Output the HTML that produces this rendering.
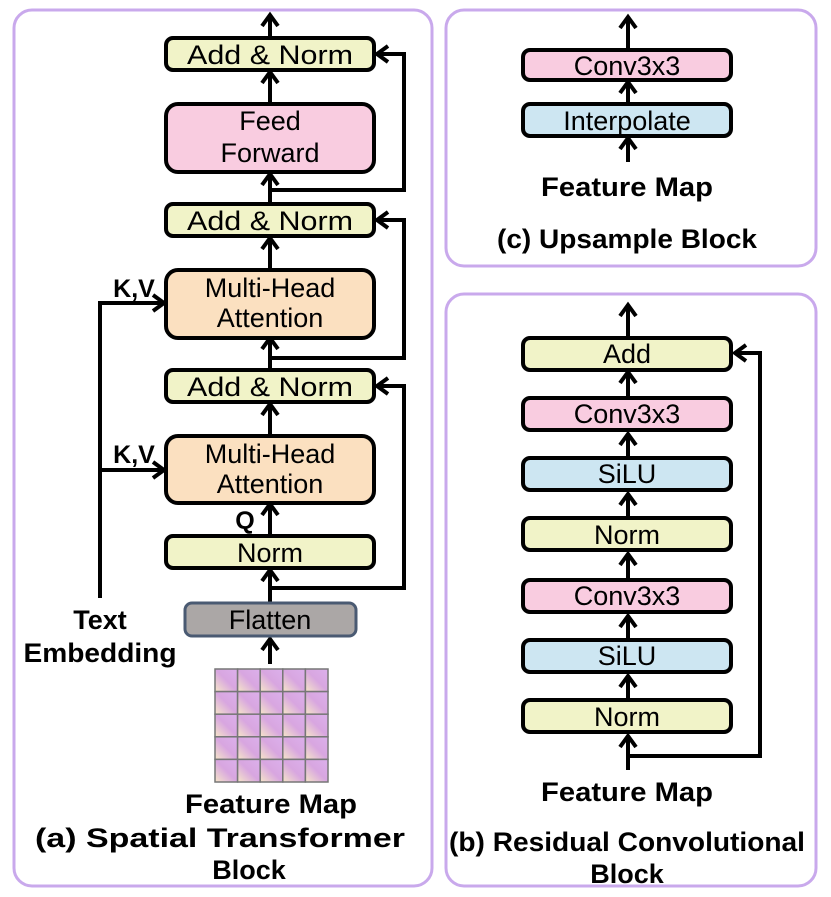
<!DOCTYPE html>
<html><head><style>
html,body{margin:0;padding:0;background:#fff;}
svg{display:block;}
text{font-family:"Liberation Sans",sans-serif;}
</style></head><body>
<svg width="831" height="897" viewBox="0 0 831 897" xmlns="http://www.w3.org/2000/svg">
<defs>
<linearGradient id="cell" x1="1" y1="0" x2="0" y2="1">
<stop offset="0" stop-color="#dcb0ec"/><stop offset="0.5" stop-color="#d8a6e0"/><stop offset="1" stop-color="#f6e6c8"/>
</linearGradient>
<marker id="ah" viewBox="0 0 20 20" refX="15" refY="10" markerWidth="20" markerHeight="20" markerUnits="userSpaceOnUse" orient="auto">
<path d="M4,2 L15,10 L4,18" fill="none" stroke="#000" stroke-width="4"/>
</marker>
</defs>
<g fill="none" stroke="#c9a9ec" stroke-width="3">
<rect x="14" y="10" width="418" height="876" rx="18"/>
<rect x="446" y="10" width="370" height="256" rx="18"/>
<rect x="446" y="294" width="370" height="592" rx="18"/>
</g>
<g stroke="#000" stroke-width="4" fill="none" marker-end="url(#ah)">
<line x1="270" y1="38" x2="270" y2="15"/>
<line x1="270" y1="104" x2="270" y2="72"/>
<line x1="270" y1="204" x2="270" y2="174"/>
<line x1="270" y1="270" x2="270" y2="238"/>
<line x1="270" y1="370" x2="270" y2="338"/>
<line x1="270" y1="436" x2="270" y2="404"/>
<line x1="270" y1="536" x2="270" y2="504"/>
<line x1="270" y1="602" x2="270" y2="570"/>
<line x1="270" y1="664" x2="270" y2="639"/>
<polyline points="270,190 404,190 404,54 377,54"/>
<polyline points="270,358 404,358 404,220 377,220"/>
<polyline points="270,588 404,588 404,386 377,386"/>
<polyline points="100,598 100,303 164,303"/>
<polyline points="100,470 164,470"/>
<line x1="628" y1="50" x2="628" y2="17"/>
<line x1="628" y1="104" x2="628" y2="82"/>
<line x1="628" y1="162" x2="628" y2="138"/>
<line x1="628" y1="338" x2="628" y2="305"/>
<line x1="628" y1="398" x2="628" y2="372"/>
<line x1="628" y1="458" x2="628" y2="434"/>
<line x1="628" y1="518" x2="628" y2="494"/>
<line x1="628" y1="580" x2="628" y2="554"/>
<line x1="628" y1="640" x2="628" y2="616"/>
<line x1="628" y1="700" x2="628" y2="676"/>
<line x1="628" y1="770" x2="628" y2="736"/>
<polyline points="628,756 760,756 760,353 735,353"/>
</g>
<g stroke="#000" stroke-width="4">
<rect x="166" y="38" width="208" height="32" rx="7" fill="#f1f3c8"/>
<rect x="166" y="104" width="208" height="68" rx="12" fill="#f9cce0"/>
<rect x="166" y="204" width="208" height="32" rx="7" fill="#f1f3c8"/>
<rect x="166" y="270" width="208" height="68" rx="12" fill="#fbe0c0"/>
<rect x="166" y="370" width="208" height="32" rx="7" fill="#f1f3c8"/>
<rect x="166" y="436" width="208" height="67" rx="12" fill="#fbe0c0"/>
<rect x="166" y="536" width="208" height="32" rx="7" fill="#f1f3c8"/>
<rect x="523" y="50" width="208" height="30" rx="7" fill="#f9cce0"/>
<rect x="523" y="104" width="208" height="32" rx="7" fill="#cde6f2"/>
<rect x="523" y="338" width="208" height="32" rx="7" fill="#f1f3c8"/>
<rect x="523" y="398" width="208" height="32" rx="7" fill="#f9cce0"/>
<rect x="523" y="458" width="208" height="32" rx="7" fill="#cde6f2"/>
<rect x="523" y="518" width="208" height="32" rx="7" fill="#f1f3c8"/>
<rect x="523" y="580" width="208" height="32" rx="7" fill="#f9cce0"/>
<rect x="523" y="640" width="208" height="32" rx="7" fill="#cde6f2"/>
<rect x="523" y="700" width="208" height="32" rx="7" fill="#f1f3c8"/>
</g>
<rect x="185" y="603" width="171" height="33" rx="7" fill="#aba7a6" stroke="#4a5a72" stroke-width="3"/>
<g stroke="#777" stroke-width="1.5" fill="url(#cell)">
<rect x="215" y="669" width="22.6" height="22.6"/><rect x="237.6" y="669" width="22.6" height="22.6"/><rect x="260.2" y="669" width="22.6" height="22.6"/><rect x="282.8" y="669" width="22.6" height="22.6"/><rect x="305.4" y="669" width="22.6" height="22.6"/>
<rect x="215" y="691.6" width="22.6" height="22.6"/><rect x="237.6" y="691.6" width="22.6" height="22.6"/><rect x="260.2" y="691.6" width="22.6" height="22.6"/><rect x="282.8" y="691.6" width="22.6" height="22.6"/><rect x="305.4" y="691.6" width="22.6" height="22.6"/>
<rect x="215" y="714.2" width="22.6" height="22.6"/><rect x="237.6" y="714.2" width="22.6" height="22.6"/><rect x="260.2" y="714.2" width="22.6" height="22.6"/><rect x="282.8" y="714.2" width="22.6" height="22.6"/><rect x="305.4" y="714.2" width="22.6" height="22.6"/>
<rect x="215" y="736.8" width="22.6" height="22.6"/><rect x="237.6" y="736.8" width="22.6" height="22.6"/><rect x="260.2" y="736.8" width="22.6" height="22.6"/><rect x="282.8" y="736.8" width="22.6" height="22.6"/><rect x="305.4" y="736.8" width="22.6" height="22.6"/>
<rect x="215" y="759.4" width="22.6" height="22.6"/><rect x="237.6" y="759.4" width="22.6" height="22.6"/><rect x="260.2" y="759.4" width="22.6" height="22.6"/><rect x="282.8" y="759.4" width="22.6" height="22.6"/><rect x="305.4" y="759.4" width="22.6" height="22.6"/>
</g>
<g font-size="27" text-anchor="middle" fill="#000">
<text x="270" y="64" textLength="166" lengthAdjust="spacingAndGlyphs">Add &amp; Norm</text>
<text x="270" y="130">Feed</text>
<text x="270" y="162">Forward</text>
<text x="270" y="230" textLength="166" lengthAdjust="spacingAndGlyphs">Add &amp; Norm</text>
<text x="270" y="297">Multi-Head</text>
<text x="270" y="327">Attention</text>
<text x="270" y="396" textLength="166" lengthAdjust="spacingAndGlyphs">Add &amp; Norm</text>
<text x="270" y="463">Multi-Head</text>
<text x="270" y="493">Attention</text>
<text x="270" y="562">Norm</text>
<text x="270" y="629">Flatten</text>
<text x="627" y="75">Conv3x3</text>
<text x="627" y="130">Interpolate</text>
<text x="627" y="363">Add</text>
<text x="627" y="423">Conv3x3</text>
<text x="627" y="483">SiLU</text>
<text x="627" y="544">Norm</text>
<text x="627" y="605">Conv3x3</text>
<text x="627" y="665">SiLU</text>
<text x="627" y="726">Norm</text>
</g>
<g font-size="27" font-weight="bold" text-anchor="middle" fill="#000">
<text x="134" y="297" font-size="25">K,V</text>
<text x="134" y="463" font-size="25">K,V</text>
<text x="245" y="529" font-size="25">Q</text>
<text x="100" y="629">Text</text>
<text x="100" y="662" textLength="153" lengthAdjust="spacingAndGlyphs">Embedding</text>
<text x="271" y="813" textLength="172" lengthAdjust="spacingAndGlyphs">Feature Map</text>
<text x="220" y="847" textLength="370" lengthAdjust="spacingAndGlyphs">(a) Spatial Transformer</text>
<text x="249" y="879">Block</text>
<text x="627" y="196" textLength="172" lengthAdjust="spacingAndGlyphs">Feature Map</text>
<text x="627" y="248" textLength="260" lengthAdjust="spacingAndGlyphs">(c) Upsample Block</text>
<text x="627" y="801" textLength="172" lengthAdjust="spacingAndGlyphs">Feature Map</text>
<text x="627" y="851" textLength="356" lengthAdjust="spacingAndGlyphs">(b) Residual Convolutional</text>
<text x="627" y="883">Block</text>
</g>
</svg>
</body></html>
